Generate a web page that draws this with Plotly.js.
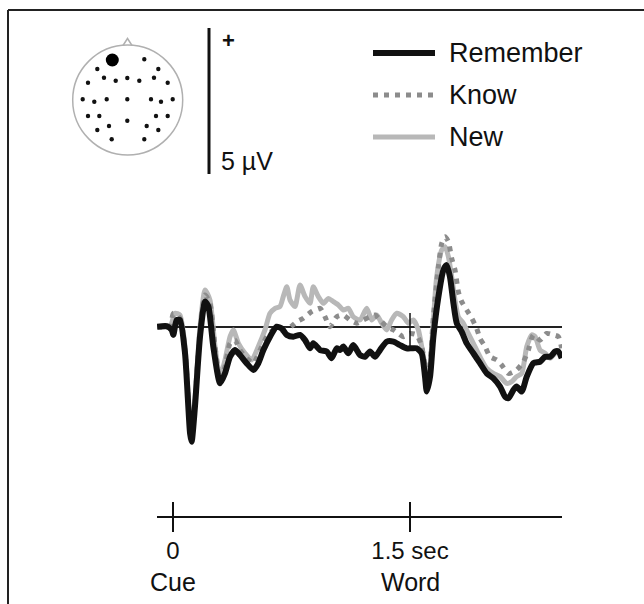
<!DOCTYPE html>
<html><head><meta charset="utf-8">
<script src="https://cdn.plot.ly/plotly-3.0.1.min.js"></script>
<style>html,body{margin:0;padding:0;background:#fff;}#chart{width:644px;height:604px;}</style>
</head><body><div id="chart"></div>
<script>
// ---------- data ----------
const seriesNames = ['Remember', 'Know', 'New'];
const tickValues = [0, 1500];
const tickLabels = ['0', '1.5 sec'];
const eventLabels = ['Cue', 'Word'];
const scaleBarMicrovolts = 5;

const timeRemember = [-100,-40,-8,2,23,44,76,108,118,139,171,203,224,255,298,329,361,392,424,466,509,540,572,614,656,688,720,762,804,836,867,888,931,973,1004,1036,1057,1078,1110,1141,1184,1215,1247,1279,1310,1353,1395,1437,1479,1511,1542,1574,1595,1606,1627,1648,1680,1711,1732,1753,1775,1796,1827,1859,1901,1943,1986,2028,2070,2102,2123,2154,2175,2207,2239,2281,2323,2355,2387,2418,2439,2460];
const remember = [0.01,0.03,-0.10,-0.27,0.24,0.24,-0.90,-3.64,-3.93,-2.73,-0.33,0.87,0.70,-0.67,-1.93,-1.59,-1.02,-0.79,-0.96,-1.24,-1.47,-1.24,-0.79,-0.33,0.01,-0.05,-0.27,-0.33,-0.27,-0.45,-0.73,-0.56,-0.79,-0.84,-1.07,-0.73,-0.79,-0.67,-0.90,-0.62,-0.96,-1.02,-0.84,-1.02,-0.79,-0.50,-0.50,-0.62,-0.73,-0.73,-0.73,-0.90,-1.70,-2.21,-1.70,-0.33,1.04,1.95,2.12,1.72,0.81,0.13,-0.16,-0.56,-0.90,-1.24,-1.59,-1.76,-2.04,-2.39,-2.44,-2.16,-2.04,-2.21,-1.70,-1.24,-1.19,-1.02,-1.02,-0.84,-0.84,-1.07];

const timeKnow = [-100,-19,2,44,76,108,118,139,171,203,234,266,298,329,361,392,424,466,509,551,593,635,677,720,751,783,825,878,931,962,994,1036,1078,1120,1163,1205,1247,1279,1310,1353,1395,1426,1458,1500,1542,1574,1595,1606,1627,1648,1680,1701,1722,1743,1764,1785,1806,1827,1859,1891,1922,1943,1975,2007,2049,2080,2123,2175,2218,2249,2281,2323,2365,2408,2439,2460];
const know = [0.01,0.01,0.47,0.30,-0.79,-3.41,-3.76,-2.56,-0.10,1.10,0.81,-0.67,-1.82,-1.36,-0.56,-0.45,-0.79,-1.07,-1.24,-0.79,-0.33,-0.10,-0.10,-0.10,0.03,0.18,0.30,0.53,0.64,0.35,0.01,0.35,0.41,0.24,0.13,0.24,0.35,0.41,0.24,0.01,-0.10,-0.22,-0.33,-0.22,-0.27,-0.67,-1.36,-1.99,-1.24,0.35,2.07,2.87,3.09,2.92,2.35,1.95,1.21,0.87,0.58,0.30,-0.05,-0.39,-0.67,-1.02,-1.13,-1.30,-1.59,-1.47,-1.19,-0.79,-0.27,-0.45,-0.22,-0.27,-0.33,-0.73];

const timeNew = [-100,-19,13,44,76,108,118,139,171,203,234,266,298,329,361,382,414,456,498,540,582,614,646,677,698,720,741,772,804,836,867,888,920,952,983,1015,1047,1078,1110,1141,1184,1226,1258,1289,1321,1353,1384,1416,1458,1490,1521,1553,1574,1595,1606,1627,1648,1669,1701,1722,1743,1764,1785,1806,1838,1869,1901,1943,1986,2028,2070,2112,2144,2175,2207,2239,2271,2292,2323,2355,2387,2418,2450];
const newItems = [0.01,0.01,0.47,0.41,-0.67,-3.41,-3.76,-2.50,0.01,1.27,0.92,-0.67,-1.70,-1.13,-0.33,-0.10,-0.56,-0.90,-1.13,-0.67,-0.10,0.47,0.64,0.70,1.04,1.38,0.92,0.70,1.44,1.04,0.81,1.38,1.04,0.81,0.98,0.87,0.75,0.58,0.64,0.35,0.24,0.64,0.24,0.41,0.13,-0.10,0.24,0.47,0.35,0.13,0.24,-0.10,-0.67,-1.36,-2.04,-1.36,0.24,1.72,2.64,2.75,2.41,1.72,0.92,0.35,0.13,-0.22,-0.56,-1.02,-1.42,-1.59,-1.70,-1.93,-1.87,-1.70,-1.59,-0.67,-0.27,-0.33,-0.79,-0.90,-1.07,-0.90,-0.79];

// ---------- styling / layout helpers ----------
const W = 644, H = 604;
const FONT = 'Liberation Sans, Arial, sans-serif';
const px = x => x / W;          // pixel -> paper x
const py = y => 1 - y / H;      // pixel -> paper y
const colors = {Remember: '#111111', Know: '#8c8c8c', New: '#b8b8b8'};
const widths = {Remember: 6, Know: 5, New: 5};
const dashes = {Remember: 'solid', Know: '5px,6px', New: 'solid'};

const xs = {Remember: timeRemember, Know: timeKnow, New: timeNew};
const ys = {Remember: remember, Know: know, New: newItems};

const drawOrder = ['New', 'Know', 'Remember'];
const traces = drawOrder.map(n => ({
  type: 'scatter', mode: 'lines', name: n,
  x: xs[n], y: ys[n],
  line: {color: colors[n], width: widths[n], dash: dashes[n], shape: 'spline', smoothing: 0.6},
  hoverinfo: 'skip', showlegend: false
}));

const shapes = [];
const annotations = [];

// frame (top and left)
shapes.push({type: 'line', xref: 'paper', yref: 'paper', x0: px(8), x1: px(644), y0: py(10), y1: py(10), line: {color: '#222', width: 2}});
shapes.push({type: 'line', xref: 'paper', yref: 'paper', x0: px(8), x1: px(8), y0: py(10), y1: py(604), line: {color: '#222', width: 2}});

// event marker on baseline at word onset
shapes.push({type: 'line', xref: 'x', yref: 'y', x0: tickValues[1], x1: tickValues[1], y0: -0.72, y1: 0.48, line: {color: '#111', width: 1.5}, layer: 'above'});

// upper half of the crossing time-axis ticks
tickValues.forEach(t => shapes.push({type: 'line', xref: 'x', yref: 'y', x0: t, x1: t, y0: -6.47, y1: -5.99, line: {color: '#111', width: 2}}));

// scale bar (5 µV, in data units)
const barBottom = 5.24;
shapes.push({type: 'line', xref: 'paper', yref: 'y', x0: px(209), x1: px(209), y0: barBottom, y1: barBottom + scaleBarMicrovolts, line: {color: '#111', width: 3}});
annotations.push({xref: 'paper', yref: 'paper', x: px(220), y: py(41), xanchor: 'left', yanchor: 'middle', text: '<b>+</b>', showarrow: false, font: {family: FONT, size: 22, color: '#111'}});
annotations.push({xref: 'paper', yref: 'paper', x: px(219), y: py(161), xanchor: 'left', yanchor: 'middle', text: scaleBarMicrovolts + ' µV', showarrow: false, font: {family: FONT, size: 25, color: '#111'}});

// legend (manual)
const legendRows = {Remember: 53, Know: 95, New: 137};
seriesNames.forEach(n => {
  const yy = legendRows[n];
  shapes.push({type: 'line', xref: 'paper', yref: 'paper', x0: px(373), x1: px(435), y0: py(yy), y1: py(yy), line: {color: colors[n], width: widths[n], dash: dashes[n]}});
  annotations.push({xref: 'paper', yref: 'paper', x: px(447), y: py(yy), xanchor: 'left', yanchor: 'middle', text: n, showarrow: false, font: {family: FONT, size: 27, color: '#111'}});
});

// event labels under tick labels
tickValues.forEach((t, i) => annotations.push({xref: 'x', yref: 'paper', x: t, y: py(582), xanchor: 'center', yanchor: 'middle', text: eventLabels[i], showarrow: false, font: {family: FONT, size: 25, color: '#111'}}));

// head map
const head = {cx: 127.7, cy: 100, r: 55};
shapes.push({type: 'circle', xref: 'paper', yref: 'paper', x0: px(head.cx - head.r), x1: px(head.cx + head.r), y0: py(head.cy + head.r), y1: py(head.cy - head.r), line: {color: '#b0b0b0', width: 1.5}});
shapes.push({type: 'path', xref: 'paper', yref: 'paper', path: `M ${px(123)} ${py(45.5)} L ${px(127.5)} ${py(38.5)} L ${px(132)} ${py(45.5)}`, line: {color: '#b0b0b0', width: 1.5}});
const electrodeLayout = [[144.3,59.3],[97.3,69],[158.3,69],[104,77.7],[115.7,80.7],[127.3,78],[139.3,80.7],[154,77.7],[88,82.7],[167.7,82.7],[82.7,99.3],[94.3,101.7],[106.7,99.3],[127.3,99.3],[151,99.3],[161,101.7],[172.7,99.3],[88,116],[99.3,116],[127.3,120.7],[156,116],[167.7,116],[97.3,130],[109,126],[146.7,126],[158.3,130],[111.7,139.3],[144.3,139.3]];
electrodeLayout.forEach(([cx, cy]) => shapes.push({type: 'circle', xref: 'paper', yref: 'paper', x0: px(cx - 2.2), x1: px(cx + 2.2), y0: py(cy + 2.2), y1: py(cy - 2.2), fillcolor: '#111', line: {width: 0}}));
shapes.push({type: 'circle', xref: 'paper', yref: 'paper', x0: px(112.3 - 6.5), x1: px(112.3 + 6.5), y0: py(60 + 6.5), y1: py(60 - 6.5), fillcolor: '#000', line: {width: 0}});

// axes: 0.158 px per ms, 29.2 px per µV, baseline at pixel row 327, time 0 at pixel column 173
const layout = {
  width: W, height: H,
  margin: {l: 0, r: 0, t: 0, b: 0, pad: 0},
  paper_bgcolor: '#fff', plot_bgcolor: 'rgba(0,0,0,0)',
  showlegend: false,
  xaxis: {
    domain: [px(157), px(562)],
    range: [(157 - 173) / 0.158, (562 - 173) / 0.158],
    showgrid: false, zeroline: false,
    showline: true, linecolor: '#111', linewidth: 2,
    ticks: 'outside', ticklen: 14, tickwidth: 2, tickcolor: '#111',
    ticklabelstandoff: -2,
    tickmode: 'array', tickvals: tickValues, ticktext: tickLabels,
    tickfont: {family: FONT, size: 24, color: '#111'},
    fixedrange: true
  },
  yaxis: {
    domain: [py(516), 1],
    range: [(327 - 516) / 29.2, 327 / 29.2],
    showgrid: false, showticklabels: false, ticks: '', showline: false,
    zeroline: true, zerolinecolor: '#222', zerolinewidth: 2,
    fixedrange: true
  },
  shapes: shapes,
  annotations: annotations,
  font: {family: FONT, color: '#111'}
};

Plotly.newPlot('chart', traces, layout, {displayModeBar: false, staticPlot: true});
</script>
</body></html>
